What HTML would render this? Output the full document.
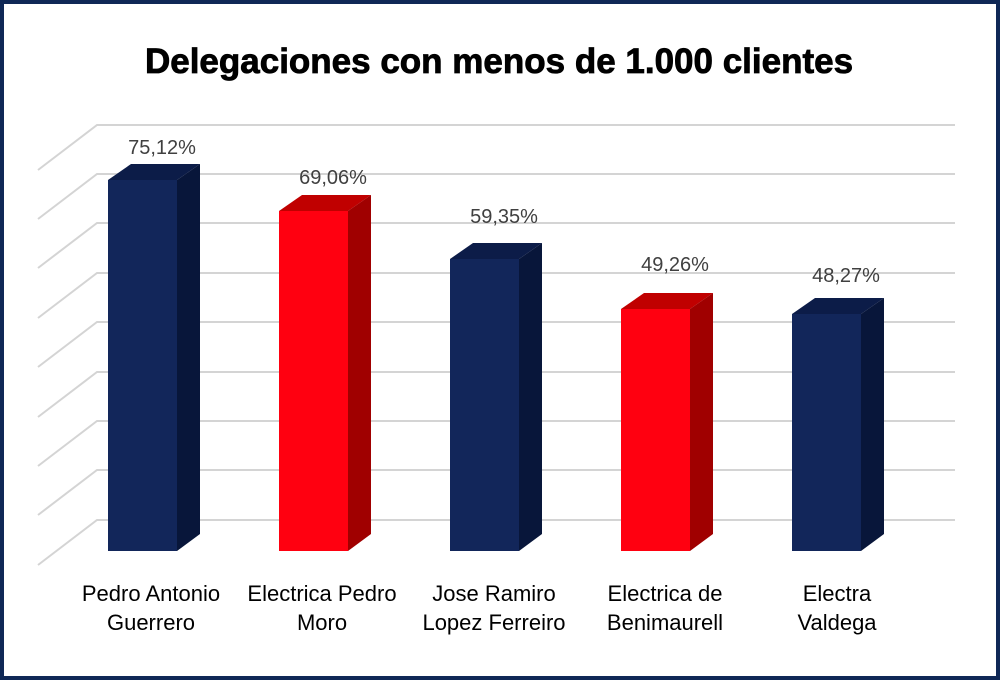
<!DOCTYPE html>
<html><head><meta charset="utf-8"><style>
html,body{margin:0;padding:0;background:#fff}
.wrap{width:1000px;height:680px;box-sizing:border-box;border:4px solid #0f2856;position:relative;background:#fff}
</style></head><body><div class="wrap">
<svg width="1000" height="680" viewBox="0 0 1000 680" style="position:absolute;left:-4px;top:-4px">
<text x="499" y="73" text-anchor="middle" font-family="Liberation Sans, sans-serif" font-weight="bold" font-size="35" fill="#000" stroke="#000" stroke-width="0.8">Delegaciones con menos de 1.000 clientes</text>
<g stroke="#d4d4d4" stroke-width="2" fill="none">
<path d="M38 170L97 125H955M38 219L97 174H955M38 268L97 223H955M38 318L97 273H955M38 367L97 322H955M38 417L97 372H955M38 466L97 421H955M38 515L97 470H955M38 565L97 520H955"/>
</g>
<g font-family="Liberation Sans, sans-serif" font-size="20" fill="#404040" text-anchor="middle">
<g>
<polygon points="108,180 131,164 200,164 177,180" fill="#0c1c48"/>
<polygon points="177,180 200,164 200,534 177,551" fill="#08163a"/>
<rect x="108" y="180" width="69" height="371" fill="#12265a"/>
<text x="162" y="154">75,12%</text>
</g>
<g>
<polygon points="279,211 302,195 371,195 348,211" fill="#c00000"/>
<polygon points="348,211 371,195 371,534 348,551" fill="#a00000"/>
<rect x="279" y="211" width="69" height="340" fill="#ff0010"/>
<text x="333" y="184">69,06%</text>
</g>
<g>
<polygon points="450,259 473,243 542,243 519,259" fill="#0c1c48"/>
<polygon points="519,259 542,243 542,534 519,551" fill="#08163a"/>
<rect x="450" y="259" width="69" height="292" fill="#12265a"/>
<text x="504" y="223">59,35%</text>
</g>
<g>
<polygon points="621,309 644,293 713,293 690,309" fill="#c00000"/>
<polygon points="690,309 713,293 713,534 690,551" fill="#a00000"/>
<rect x="621" y="309" width="69" height="242" fill="#ff0010"/>
<text x="675" y="271">49,26%</text>
</g>
<g>
<polygon points="792,314 815,298 884,298 861,314" fill="#0c1c48"/>
<polygon points="861,314 884,298 884,534 861,551" fill="#08163a"/>
<rect x="792" y="314" width="69" height="237" fill="#12265a"/>
<text x="846" y="282">48,27%</text>
</g>
</g>
<g font-family="Liberation Sans, sans-serif" font-size="22" fill="#000" text-anchor="middle">
<text x="151" y="601">Pedro Antonio</text><text x="151" y="630">Guerrero</text>
<text x="322" y="601">Electrica Pedro</text><text x="322" y="630">Moro</text>
<text x="494" y="601">Jose Ramiro</text><text x="494" y="630">Lopez Ferreiro</text>
<text x="665" y="601">Electrica de</text><text x="665" y="630">Benimaurell</text>
<text x="837" y="601">Electra</text><text x="837" y="630">Valdega</text>
</g>
</svg>
</div></body></html>
